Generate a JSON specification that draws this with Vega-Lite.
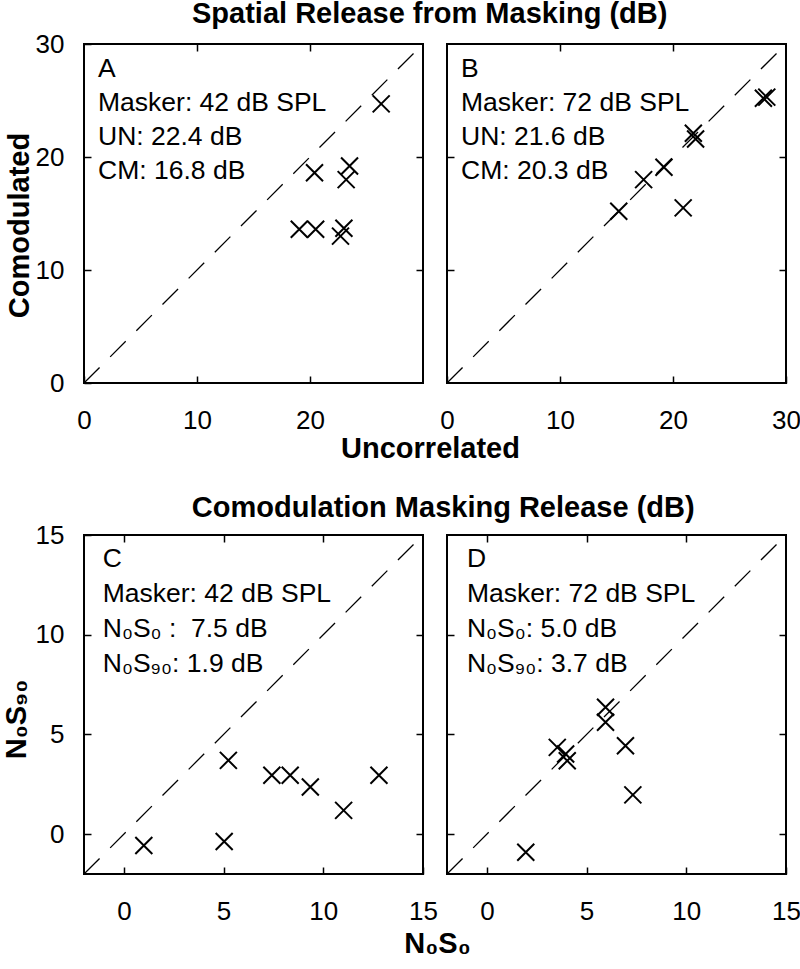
{
  "$schema": "https://vega.github.io/schema/vega-lite/v6.json",
  "padding": {"left": 1, "top": 0, "right": 0, "bottom": 0},
  "background": "white",
  "config": {
    "font": "Liberation Sans",
    "view": {"stroke": "black", "strokeWidth": 2},
    "axis": {
      "domain": false, "grid": false,
      "tickColor": "black", "tickSize": -7, "tickWidth": 1.5,
      "labelFont": "Liberation Sans", "labelFontSize": 26, "labelColor": "black",
      "labelFlush": false, "labelOverlap": false, "labelPadding": 31,
      "titleFont": "Liberation Sans", "titleFontSize": 29, "titleFontWeight": "bold", "titleColor": "black"
    },
    "title": {"font": "Liberation Sans", "fontSize": 29, "fontWeight": "bold", "color": "black", "anchor": "middle", "baseline": "alphabetic", "offset": 1}
  },
  "datasets": {
    "pts": [
      {"panel": "A", "x": 26.3, "y": 24.7},
      {"panel": "A", "x": 20.4, "y": 18.6},
      {"panel": "A", "x": 23.5, "y": 19.2},
      {"panel": "A", "x": 23.2, "y": 18.0},
      {"panel": "A", "x": 19.05, "y": 13.6},
      {"panel": "A", "x": 20.5, "y": 13.6},
      {"panel": "A", "x": 23.0, "y": 13.7},
      {"panel": "A", "x": 22.7, "y": 13.0},
      {"panel": "B", "x": 28.0, "y": 25.2},
      {"panel": "B", "x": 28.3, "y": 25.3},
      {"panel": "B", "x": 21.8, "y": 22.1},
      {"panel": "B", "x": 22.0, "y": 21.6},
      {"panel": "B", "x": 19.2, "y": 19.1},
      {"panel": "B", "x": 17.4, "y": 18.0},
      {"panel": "B", "x": 15.2, "y": 15.2},
      {"panel": "B", "x": 20.9, "y": 15.5},
      {"panel": "C", "x": 1.0, "y": -0.57},
      {"panel": "C", "x": 5.03, "y": -0.37},
      {"panel": "C", "x": 5.24, "y": 3.7},
      {"panel": "C", "x": 7.42, "y": 2.95},
      {"panel": "C", "x": 8.34, "y": 2.95},
      {"panel": "C", "x": 9.35, "y": 2.36},
      {"panel": "C", "x": 11.02, "y": 1.19},
      {"panel": "C", "x": 12.79, "y": 2.95},
      {"panel": "D", "x": 1.95, "y": -0.91},
      {"panel": "D", "x": 3.53, "y": 4.35},
      {"panel": "D", "x": 3.95, "y": 4.02},
      {"panel": "D", "x": 4.03, "y": 3.68},
      {"panel": "D", "x": 5.95, "y": 6.36},
      {"panel": "D", "x": 5.95, "y": 5.61},
      {"panel": "D", "x": 6.95, "y": 4.43},
      {"panel": "D", "x": 7.32, "y": 1.97}
    ],
    "diag": [
      {"panel": "A", "lo": 0, "hi": 30},
      {"panel": "B", "lo": 0, "hi": 30},
      {"panel": "C", "lo": -2, "hi": 15},
      {"panel": "D", "lo": -2, "hi": 15}
    ],
    "notes": [
      {"panel": "A", "note": "A\nMasker: 42 dB SPL\nUN: 22.4 dB\nCM: 16.8 dB"},
      {"panel": "B", "note": "B\nMasker: 72 dB SPL\nUN: 21.6 dB\nCM: 20.3 dB"},
      {"panel": "C", "note": "C\nMasker: 42 dB SPL\nN₀S₀ :\u00a0 7.5 dB\nN₀S₉₀: 1.9 dB"},
      {"panel": "D", "note": "D\nMasker: 72 dB SPL\nN₀S₀: 5.0 dB\nN₀S₉₀: 3.7 dB"}
    ]
  },
  "spacing": 30,
  "vconcat": [
    {
      "title": {"text": "Spatial Release from Masking (dB)", "dx": 27},
      "hconcat": [
        {
          "width": 339, "height": 339,
          "layer": [
            {
              "data": {"name": "diag"},
              "transform": [{"filter": "datum.panel === 'A'"}],
              "mark": {"type": "rule", "strokeDash": [22, 15], "strokeWidth": 1.3, "color": "black"},
              "encoding": {
                "x": {"field": "lo", "type": "quantitative", "scale": {"domain": [0, 30], "nice": false, "zero": false}, "axis": {"orient": "top", "labels": false, "values": [10, 20], "title": null}},
                "y": {"field": "lo", "type": "quantitative", "scale": {"domain": [0, 30], "nice": false, "zero": false}, "axis": {"orient": "right", "labels": false, "values": [10, 20], "title": null}},
                "x2": {"field": "hi"}, "y2": {"field": "hi"}
              }
            },
            {
              "data": {"name": "pts"},
              "transform": [{"filter": "datum.panel === 'A'"}],
              "mark": {"type": "point", "shape": "M-1,-1L1,1M-1,1L1,-1", "size": 289, "filled": false, "color": "black", "strokeWidth": 2, "opacity": 1},
              "encoding": {
                "x": {"field": "x", "type": "quantitative", "axis": {"orient": "bottom", "values": [0, 10, 20], "title": "Uncorrelated", "titleX": 346, "titleY": 74, "titleAlign": "center", "titleBaseline": "alphabetic"}},
                "y": {"field": "y", "type": "quantitative", "axis": {"orient": "left", "values": [0, 10, 20, 30], "labelPadding": 27, "title": "Comodulated", "titleX": -56, "titleY": 181, "titleAngle": 270, "titleAlign": "center", "titleBaseline": "alphabetic"}}
              }
            },
            {
              "data": {"name": "notes"},
              "transform": [{"filter": "datum.panel === 'A'"}],
              "mark": {"type": "text", "align": "left", "baseline": "alphabetic", "lineBreak": "\n", "lineHeight": 34, "fontSize": 26.5, "font": "Liberation Sans", "color": "black"},
              "encoding": {
                "x": {"datum": 1.24, "type": "quantitative", "axis": null},
                "y": {"datum": 27.08, "type": "quantitative", "axis": null},
                "text": {"field": "note"}
              }
            }
          ]
        },
        {
          "width": 339, "height": 339,
          "layer": [
            {
              "data": {"name": "diag"},
              "transform": [{"filter": "datum.panel === 'B'"}],
              "mark": {"type": "rule", "strokeDash": [22, 15], "strokeWidth": 1.3, "color": "black"},
              "encoding": {
                "x": {"field": "lo", "type": "quantitative", "scale": {"domain": [0, 30], "nice": false, "zero": false}, "axis": {"orient": "top", "labels": false, "values": [10, 20], "title": null}},
                "y": {"field": "lo", "type": "quantitative", "scale": {"domain": [0, 30], "nice": false, "zero": false}, "axis": {"orient": "right", "labels": false, "values": [10, 20], "title": null}},
                "x2": {"field": "hi"}, "y2": {"field": "hi"}
              }
            },
            {
              "data": {"name": "pts"},
              "transform": [{"filter": "datum.panel === 'B'"}],
              "mark": {"type": "point", "shape": "M-1,-1L1,1M-1,1L1,-1", "size": 289, "filled": false, "color": "black", "strokeWidth": 2, "opacity": 1},
              "encoding": {
                "x": {"field": "x", "type": "quantitative", "axis": {"orient": "bottom", "values": [0, 10, 20, 30], "title": null}},
                "y": {"field": "y", "type": "quantitative", "axis": {"orient": "left", "values": [10, 20], "labels": false, "title": null}}
              }
            },
            {
              "data": {"name": "notes"},
              "transform": [{"filter": "datum.panel === 'B'"}],
              "mark": {"type": "text", "align": "left", "baseline": "alphabetic", "lineBreak": "\n", "lineHeight": 34, "fontSize": 26.5, "font": "Liberation Sans", "color": "black"},
              "encoding": {
                "x": {"datum": 1.24, "type": "quantitative", "axis": null},
                "y": {"datum": 27.08, "type": "quantitative", "axis": null},
                "text": {"field": "note"}
              }
            }
          ]
        }
      ],
      "spacing": 24,
      "bounds": "flush"
    },
    {
      "title": {"text": "Comodulation Masking Release (dB)", "dx": 42, "offset": -2},
      "hconcat": [
        {
          "width": 339, "height": 339,
          "layer": [
            {
              "data": {"name": "diag"},
              "transform": [{"filter": "datum.panel === 'C'"}],
              "mark": {"type": "rule", "strokeDash": [22, 15], "strokeWidth": 1.3, "color": "black"},
              "encoding": {
                "x": {"field": "lo", "type": "quantitative", "scale": {"domain": [-2, 15], "nice": false, "zero": false}, "axis": {"orient": "top", "labels": false, "values": [0, 5, 10], "title": null}},
                "y": {"field": "lo", "type": "quantitative", "scale": {"domain": [-2, 15], "nice": false, "zero": false}, "axis": {"orient": "right", "labels": false, "values": [0, 5, 10], "title": null}},
                "x2": {"field": "hi"}, "y2": {"field": "hi"}
              }
            },
            {
              "data": {"name": "pts"},
              "transform": [{"filter": "datum.panel === 'C'"}],
              "mark": {"type": "point", "shape": "M-1,-1L1,1M-1,1L1,-1", "size": 289, "filled": false, "color": "black", "strokeWidth": 2, "opacity": 1},
              "encoding": {
                "x": {"field": "x", "type": "quantitative", "axis": {"orient": "bottom", "values": [0, 5, 10, 15], "title": "N₀S₀", "titleX": 353, "titleY": 78, "titleAlign": "center", "titleBaseline": "alphabetic"}},
                "y": {"field": "y", "type": "quantitative", "axis": {"orient": "left", "values": [0, 5, 10, 15], "labelPadding": 27, "title": "N₀S₉₀", "titleX": -59, "titleY": 184, "titleAngle": 270, "titleAlign": "center", "titleBaseline": "alphabetic"}}
              }
            },
            {
              "data": {"name": "notes"},
              "transform": [{"filter": "datum.panel === 'C'"}],
              "mark": {"type": "text", "align": "left", "baseline": "alphabetic", "lineBreak": "\n", "lineHeight": 35, "fontSize": 26.5, "font": "Liberation Sans", "color": "black"},
              "encoding": {
                "x": {"datum": -1.06, "type": "quantitative", "axis": null},
                "y": {"datum": 13.4, "type": "quantitative", "axis": null},
                "text": {"field": "note"}
              }
            }
          ]
        },
        {
          "width": 339, "height": 339,
          "layer": [
            {
              "data": {"name": "diag"},
              "transform": [{"filter": "datum.panel === 'D'"}],
              "mark": {"type": "rule", "strokeDash": [22, 15], "strokeWidth": 1.3, "color": "black"},
              "encoding": {
                "x": {"field": "lo", "type": "quantitative", "scale": {"domain": [-2, 15], "nice": false, "zero": false}, "axis": {"orient": "top", "labels": false, "values": [0, 5, 10], "title": null}},
                "y": {"field": "lo", "type": "quantitative", "scale": {"domain": [-2, 15], "nice": false, "zero": false}, "axis": {"orient": "right", "labels": false, "values": [0, 5, 10], "title": null}},
                "x2": {"field": "hi"}, "y2": {"field": "hi"}
              }
            },
            {
              "data": {"name": "pts"},
              "transform": [{"filter": "datum.panel === 'D'"}],
              "mark": {"type": "point", "shape": "M-1,-1L1,1M-1,1L1,-1", "size": 289, "filled": false, "color": "black", "strokeWidth": 2, "opacity": 1},
              "encoding": {
                "x": {"field": "x", "type": "quantitative", "axis": {"orient": "bottom", "values": [0, 5, 10, 15], "title": null}},
                "y": {"field": "y", "type": "quantitative", "axis": {"orient": "left", "values": [0, 5, 10], "labels": false, "title": null}}
              }
            },
            {
              "data": {"name": "notes"},
              "transform": [{"filter": "datum.panel === 'D'"}],
              "mark": {"type": "text", "align": "left", "baseline": "alphabetic", "lineBreak": "\n", "lineHeight": 35, "fontSize": 26.5, "font": "Liberation Sans", "color": "black"},
              "encoding": {
                "x": {"datum": -1.0, "type": "quantitative", "axis": null},
                "y": {"datum": 13.4, "type": "quantitative", "axis": null},
                "text": {"field": "note"}
              }
            }
          ]
        }
      ],
      "spacing": 24,
      "bounds": "flush"
    }
  ]
}
